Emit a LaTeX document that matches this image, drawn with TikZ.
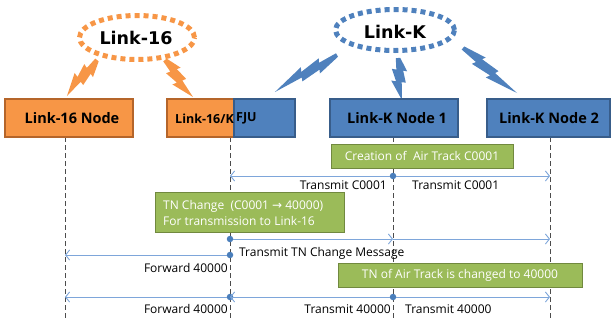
\documentclass[tikz,border=0pt]{standalone}
\usepackage{fontspec}
\setmainfont{Open Sans}
\newfontfamily\titlefont{DejaVu Sans}
\usetikzlibrary{arrows.meta}
\definecolor{orF}{HTML}{F79646}
\definecolor{orD}{HTML}{B5652A}
\definecolor{blF}{HTML}{4F81BD}
\definecolor{blD}{HTML}{385D8A}
\definecolor{grF}{HTML}{9BBB59}
\definecolor{grD}{HTML}{71893F}
\definecolor{arC}{HTML}{7EA6DA}
\definecolor{dtC}{HTML}{4A7EBB}
\newcommand\mybolt[5]{%
  \fill[#5, shift={(#1)}, rotate=#2, xscale=#3, yscale=#4]
    (0,-0.04) -- (0.335,-0.143) -- (0.311,-0.072) -- (0.599,-0.099) --
    (0.579,-0.026) -- (1,0) -- (0.517,0.161) -- (0.545,0.075) --
    (0.241,0.13) -- (0.269,0.05) -- (0,0.04) -- cycle;}
\tikzset{
  boxO/.style={draw=orD, fill=orF, line width=1.2pt, minimum height=38pt, inner sep=0pt},
  boxB/.style={draw=blD, fill=blF, line width=1.2pt, minimum height=38pt, inner sep=0pt},
  btxt/.style={font=\bfseries\fontsize{14.5}{17}\selectfont, text=black, inner sep=0pt},
  ttl/.style={font=\titlefont\bfseries\fontsize{17.5}{20}\selectfont, inner sep=0pt},
  gbox/.style={draw=grD, fill=grF, line width=0.8pt, text=white, inner sep=0pt,
    font=\fontsize{12}{16}\selectfont},
  life/.style={draw=black!70, line width=0.8pt, dash pattern=on 5pt off 3pt},
  msg/.style={draw=arC, line width=0.9pt, -{Straight Barb[length=4pt,width=10pt]}},
  dot/.style={circle, fill=dtC, inner sep=0pt, minimum size=6.5pt},
  lbl/.style={font=\fontsize{12}{14}\selectfont, inner sep=0pt}
}
\begin{document}
\begin{tikzpicture}[x=1pt,y=-1pt]
\useasboundingbox (0,0) rectangle (611,327);
% network clouds
\draw[orF, line width=5pt, dash pattern=on 5pt off 4pt] (137,37.5) ellipse [x radius=57.5pt, y radius=22pt];
\node[ttl] (l16) at (136,38) {Link-16};
\draw[blF, line width=5pt, dash pattern=on 5pt off 4pt] (395,30) ellipse [x radius=59.5pt, y radius=20.5pt];
\node[ttl] (lk) at (395,32) {Link-K};
% bolts
\mybolt{97,60}{-129.8}{46.9}{55}{orF}
\mybolt{165,60}{-52.9}{46.4}{55}{orF}
\mybolt{337,55}{-149.2}{72.2}{50}{blF}
\mybolt{398,58}{-84.6}{42.2}{55}{blF}
\mybolt{463,48}{-39.8}{70.3}{50}{blF}
% lifelines
\coordinate (t16) at (65,137);  \coordinate (b16) at (65,320);
\coordinate (tfj) at (230,137); \coordinate (bfj) at (230,320);
\coordinate (tk1) at (393,137); \coordinate (bk1) at (393,320);
\coordinate (tk2) at (550,137); \coordinate (bk2) at (550,320);
\draw[life] (t16) -- (b16);
\draw[life] (tfj) -- (bfj);
\draw[life] (tk1) -- (bk1);
\draw[life] (tk2) -- (bk2);
% boxes
\node[boxO, minimum width=128pt] (n16) at (69,118) {};
\node[btxt] (n16t) at (72,118) {Link-16 Node};
\node[boxO, minimum width=67pt] (fjo) at (200.5,118) {};
\node[boxB, minimum width=61pt] (fjb) at (264.5,118) {};
\node[btxt, anchor=east, font=\bfseries\fontsize{12.5}{14}\selectfont] (fjot) at (234,118.5) {Link-16/K};
\node[btxt, anchor=west, font=\bfseries\fontsize{12.5}{14}\selectfont] (fjbt) at (236,118.5) {FJU};
\node[boxB, minimum width=128pt] (nk1) at (394,118) {};
\node[btxt] (nk1t) at (397,118) {Link-K Node 1};
\node[boxB, minimum width=123pt] (nk2) at (548.5,118) {};
\node[btxt] (nk2t) at (549,118) {Link-K Node 2};
% green notes
\node[gbox, minimum width=182pt, minimum height=24pt] (g1) at (422,156) {Creation of~~Air Track C0001};
\node[gbox, minimum width=189pt, minimum height=40pt] (g2) at (249.5,212) {};
\node[lbl, text=white, anchor=west, align=left, font=\fontsize{12}{16}\selectfont] (g2t) at (163,212.5) {TN Change~~(C0001 {\titlefont →} 40000)\\For transmission to Link-16};
\node[gbox, minimum width=244pt, minimum height=24pt] (g3) at (460,275) {TN of Air Track is changed to 40000};
% row 1
\coordinate (f1) at (230,176); \coordinate (k21) at (550,176);
\node[dot] (d1) at (393,176) {};
\draw[msg] (d1) -- (f1);
\draw[msg] (d1) -- (k21);
\node[lbl, anchor=base east] (m1a) at (387,189) {Transmit C0001};
\node[lbl, anchor=base west] (m1b) at (412,189) {Transmit C0001};
% row 2
\coordinate (k12) at (393,239); \coordinate (k22) at (550,239);
\node[dot] (d2) at (230,239) {};
\draw[msg] (d2) -- (k12);
\draw[msg] (k12) -- (k22);
\node[lbl, anchor=base west] (m2) at (239,256) {Transmit TN Change Message};
% row 3
\coordinate (a3) at (65,255);
\node[dot] (d3) at (230,255) {};
\draw[msg] (d3) -- (a3);
\node[lbl, anchor=base east] (m3) at (228,272) {Forward 40000};
% row 4
\coordinate (a4) at (65,297); \coordinate (f4) at (230,297); \coordinate (k24) at (550,297);
\node[dot] (d4) at (393,297) {};
\node[dot] (d5) at (230,297) {};
\draw[msg] (d4) -- (f4);
\draw[msg] (d5) -- (a4);
\draw[msg] (d4) -- (k24);
\node[lbl, anchor=base east] (m4a) at (228,313) {Forward 40000};
\node[lbl, anchor=base east] (m4b) at (391,313) {Transmit 40000};
\node[lbl, anchor=base west] (m4c) at (405,313) {Transmit 40000};
\end{tikzpicture}
\end{document}
